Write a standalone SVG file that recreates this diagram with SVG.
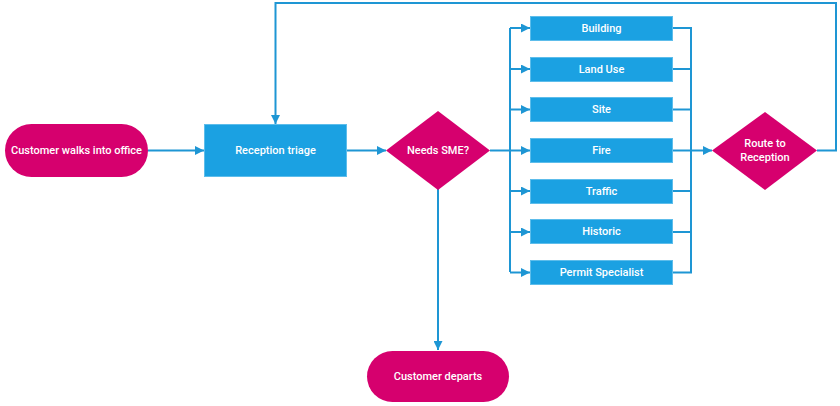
<svg xmlns="http://www.w3.org/2000/svg" width="840" height="406" viewBox="0 0 840 406">
<style>
.term{fill:#D6006E}
.dec{fill:#D6006E}
.proc{fill:#1BA1E2;stroke:#5DBDEB;stroke-width:1}
.lbl{font-family:"Roboto","Liberation Sans",sans-serif;font-weight:500;font-size:11px;fill:#FFFFFF;text-anchor:middle;dominant-baseline:central}
.con{fill:none;stroke:#1E96D4;stroke-width:2}
</style>
<defs>
<marker id="ah" viewBox="0 0 10 10" refX="10" refY="5" markerWidth="10" markerHeight="9" markerUnits="userSpaceOnUse" orient="auto">
<path d="M0,0 L10,5 L0,10 Z" fill="#1E96D4"/>
</marker>
</defs>
<rect width="840" height="406" fill="#FFFFFF"/>
<g id="connectors">
<path class="con" d="M148,150.5 H204" marker-end="url(#ah)"/>
<path class="con" d="M347,150.5 H386" marker-end="url(#ah)"/>
<path class="con" d="M490,150.5 H510"/>
<path class="con" d="M510,28 V272"/>
<path class="con" d="M510,28 H530" marker-end="url(#ah)"/>
<path class="con" d="M510,69 H530" marker-end="url(#ah)"/>
<path class="con" d="M510,109.5 H530" marker-end="url(#ah)"/>
<path class="con" d="M510,150.5 H530" marker-end="url(#ah)"/>
<path class="con" d="M510,191 H530" marker-end="url(#ah)"/>
<path class="con" d="M510,232 H530" marker-end="url(#ah)"/>
<path class="con" d="M510,272.5 H530" marker-end="url(#ah)"/>
<path class="con" d="M673,28 H691 V272.5 H673"/>
<path class="con" d="M673,69 H691"/>
<path class="con" d="M673,109.5 H691"/>
<path class="con" d="M673,150.5 H691"/>
<path class="con" d="M673,191 H691"/>
<path class="con" d="M673,232 H691"/>
<path class="con" d="M691,150.5 H712" marker-end="url(#ah)"/>
<path class="con" d="M817,150.5 H836 V3 H275.5 V124" marker-end="url(#ah)"/>
<path class="con" d="M438,189 V350" marker-end="url(#ah)"/>
</g>
<g id="start">
<rect class="term" x="5" y="124" width="143" height="53" rx="26.5"/>
<text class="lbl" x="76.5" y="150.5">Customer walks into office</text>
</g>
<g id="reception">
<rect class="proc" x="204.5" y="124.5" width="142" height="52"/>
<text class="lbl" x="275.5" y="150.5">Reception triage</text>
</g>
<g id="needs-sme">
<polygon class="dec" points="438,111 490,150.5 438,190 386,150.5"/>
<text class="lbl" x="438" y="150.5">Needs SME?</text>
</g>
<g id="building">
<rect class="proc" x="530.5" y="16.5" width="142" height="24"/>
<text class="lbl" x="601.5" y="28.5">Building</text>
</g>
<g id="land-use">
<rect class="proc" x="530.5" y="57.5" width="142" height="24"/>
<text class="lbl" x="601.5" y="69.5">Land Use</text>
</g>
<g id="site">
<rect class="proc" x="530.5" y="97.5" width="142" height="24"/>
<text class="lbl" x="601.5" y="109.5">Site</text>
</g>
<g id="fire">
<rect class="proc" x="530.5" y="138.5" width="142" height="24"/>
<text class="lbl" x="601.5" y="150.5">Fire</text>
</g>
<g id="traffic">
<rect class="proc" x="530.5" y="179.5" width="142" height="24"/>
<text class="lbl" x="601.5" y="191.5">Traffic</text>
</g>
<g id="historic">
<rect class="proc" x="530.5" y="219.5" width="142" height="24"/>
<text class="lbl" x="601.5" y="231.5">Historic</text>
</g>
<g id="permit">
<rect class="proc" x="530.5" y="260.5" width="142" height="24"/>
<text class="lbl" x="601.5" y="272.5">Permit Specialist</text>
</g>
<g id="route">
<polygon class="dec" points="765,112 817,150.5 765,190 712,150.5"/>
<text class="lbl" x="765" y="143.5">Route to</text>
<text class="lbl" x="765" y="157.5">Reception</text>
</g>
<g id="departs">
<rect class="term" x="367" y="351" width="142" height="51" rx="25.5"/>
<text class="lbl" x="438" y="376.5">Customer departs</text>
</g>
</svg>
